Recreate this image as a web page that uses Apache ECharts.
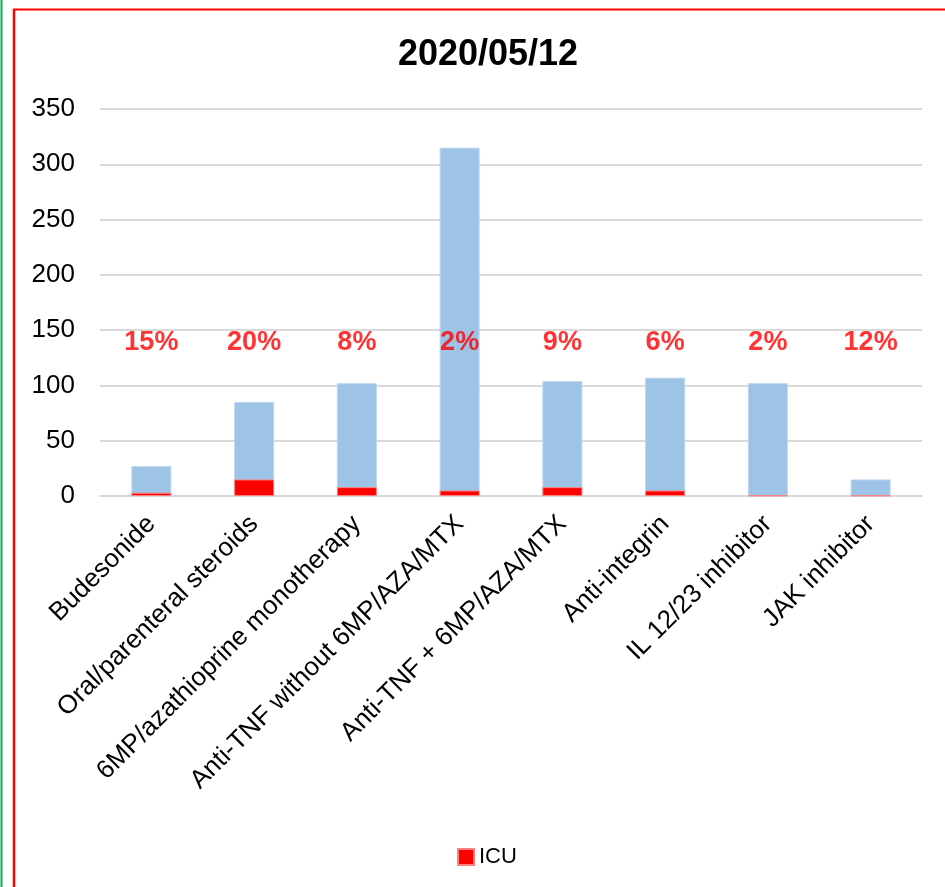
<!DOCTYPE html>
<html>
<head>
<meta charset="utf-8">
<script src="https://cdn.jsdelivr.net/npm/echarts@6/dist/echarts.min.js"></script>
<style>
html,body{margin:0;padding:0;background:#fff;}
#chart{width:945px;height:887px;}
</style>
</head>
<body>
<div id="chart"></div>
<script>
const titleText = '2020/05/12';
const categories = ['Budesonide', 'Oral/parenteral steroids', '6MP/azathioprine monotherapy', 'Anti-TNF without 6MP/AZA/MTX', 'Anti-TNF + 6MP/AZA/MTX', 'Anti-integrin', 'IL 12/23 inhibitor', 'JAK inhibitor'];
const totalValues = [27, 85, 102, 315, 104, 107, 102, 15];
const icuValues = [3, 15, 8, 5, 8, 5, 0.5, 0.5];
const pctLabels = ['15%', '20%', '8%', '2%', '9%', '6%', '2%', '12%'];
const pctLevel = [139, 139, 139, 139, 139, 139, 139, 139];
const yTicks = {min: 0, max: 350, interval: 50};

const chart = echarts.init(document.getElementById('chart'), null, {renderer: 'canvas'});
const FONT = '"Liberation Sans", Arial, sans-serif';
chart.setOption({
  animation: false,
  backgroundColor: '#ffffff',
  title: {
    text: titleText,
    left: 483,
    top: 32,
    textAlign: 'center',
    textStyle: {fontFamily: FONT, fontSize: 36, fontWeight: 'bold', color: '#000'}
  },
  legend: {
    data: ['ICU'],
    left: 452,
    top: 841,
    itemWidth: 16,
    itemHeight: 16,
    itemGap: 8,
    icon: 'rect',
    textStyle: {fontFamily: FONT, fontSize: 22, color: '#000'}
  },
  grid: {left: 100, right: 23, top: 109, bottom: 391, containLabel: false},
  xAxis: {
    type: 'category',
    data: categories,
    axisLine: {show: true, lineStyle: {color: '#d9d9d9', width: 2}},
    axisTick: {show: false},
    axisLabel: {
      rotate: 45,
      margin: 24,
      interval: 0,
      fontFamily: FONT,
      fontSize: 26,
      color: '#000'
    }
  },
  yAxis: {
    type: 'value',
    min: yTicks.min,
    max: yTicks.max,
    interval: yTicks.interval,
    axisLine: {show: false},
    axisTick: {show: false},
    splitLine: {lineStyle: {color: '#d9d9d9', width: 2}},
    axisLabel: {margin: 25, fontFamily: FONT, fontSize: 26, color: '#000'}
  },
  series: [
    {
      name: 'Total',
      type: 'bar',
      data: totalValues,
      barWidth: 40,
      barGap: '-100%',
      itemStyle: {color: '#9dc3e6', borderColor: '#bcd6ee', borderWidth: 1},
      z: 2
    },
    {
      name: 'ICU',
      type: 'bar',
      data: icuValues,
      barWidth: 40,
      barGap: '-100%',
      itemStyle: {color: '#ff0000', borderColor: '#ff8080', borderWidth: 1},
      z: 3
    },
    {
      name: 'pct',
      type: 'scatter',
      data: pctLevel,
      symbolSize: 1,
      itemStyle: {color: 'rgba(0,0,0,0)'},
      label: {
        show: true,
        position: 'inside',
        formatter: p => pctLabels[p.dataIndex],
        fontFamily: FONT,
        fontSize: 27,
        fontWeight: 'bold',
        color: '#ff0000'
      },
      z: 4
    }
  ],
  graphic: [
    {type: 'line', shape: {x1: 1.5, y1: 0, x2: 1.5, y2: 887}, style: {stroke: '#00b050', lineWidth: 2}},
    {type: 'line', shape: {x1: 14, y1: 9, x2: 14, y2: 887}, style: {stroke: '#ff0000', lineWidth: 2.5}},
    {type: 'line', shape: {x1: 13, y1: 9.5, x2: 945, y2: 9.5}, style: {stroke: '#ff0000', lineWidth: 2}}
  ]
});
</script>
</body>
</html>
